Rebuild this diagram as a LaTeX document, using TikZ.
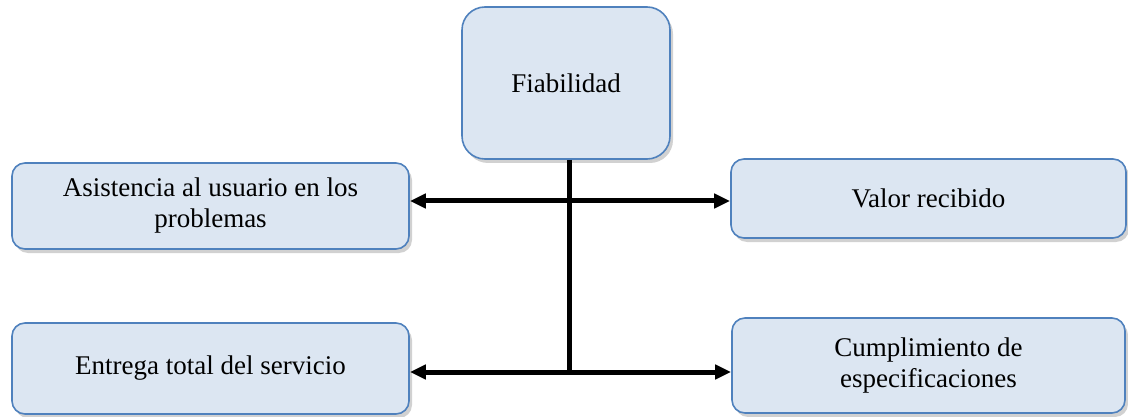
\documentclass[tikz,border=0pt]{standalone}
\usepackage{fontspec}
\setmainfont{Liberation Serif}
\usetikzlibrary{arrows.meta,shadows}
\definecolor{boxfill}{HTML}{DCE6F2}
\definecolor{boxline}{HTML}{4F81BD}
\begin{document}
\begin{tikzpicture}[x=1pt,y=-1pt,
  itembox/.style={draw=boxline, line width=1.6pt, fill=boxfill,
    rounded corners=13pt, inner sep=0pt, align=center,
    font=\fontsize{27}{31}\selectfont,
    drop shadow={shadow xshift=3pt, shadow yshift=-4pt, opacity=0.3, fill=black!60}},
  link/.style={line width=5pt, black},
  tip/.style={-{Triangle[length=16pt,width=14pt]}}]
  \useasboundingbox (0,0) rectangle (1128,417);

  % central box
  \node[itembox, rounded corners=23pt, minimum width=208pt, minimum height=152pt]
    (fia) at (566,83) {Fiabilidad};

  % surrounding boxes
  \node[itembox, minimum width=397pt, minimum height=86pt]
    (asis) at (210.5,206) {Asistencia al usuario en los\\problemas};
  \node[itembox, minimum width=395pt, minimum height=79pt]
    (valor) at (928.5,198.5) {Valor recibido};
  \node[itembox, minimum width=397pt, minimum height=91pt]
    (entrega) at (210.5,368.5) {Entrega total del servicio};
  \node[itembox, minimum width=393pt, minimum height=95pt]
    (cumpl) at (928.5,365.5) {Cumplimiento de\\especificaciones};

  % junction points on the stem
  \coordinate (j1) at (569,201);
  \coordinate (j2) at (569,372);

  % stem from the central box
  \draw[link] (fia.south -| j1) -- (j2);

  % branches
  \draw[link, tip] (j1) -- (j1 -| asis.east);
  \draw[link, tip] (j1) -- (j1 -| valor.west);
  \draw[link, tip] (j2) -- (j2 -| entrega.east);
  \draw[link, tip] (j2) -- (j2 -| cumpl.west);
\end{tikzpicture}
\end{document}
